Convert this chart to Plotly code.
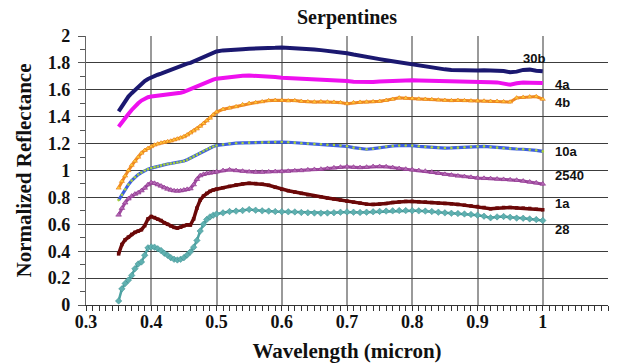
import plotly.graph_objects as go

# Wavelength grid (micron): finer steps across the 0.35-0.50 absorption region
wavelength = [
    0.350, 0.355, 0.360, 0.365, 0.370, 0.375, 0.380, 0.385, 0.390, 0.395,
    0.400, 0.405, 0.410, 0.415, 0.420, 0.425, 0.430, 0.435, 0.440, 0.445,
    0.450, 0.455, 0.460, 0.465, 0.470, 0.475, 0.480, 0.485, 0.490, 0.495,
    0.500, 0.51, 0.52, 0.53, 0.54, 0.55, 0.56, 0.57, 0.58, 0.59,
    0.60, 0.61, 0.62, 0.63, 0.64, 0.65, 0.66, 0.67, 0.68, 0.69,
    0.70, 0.71, 0.72, 0.73, 0.74, 0.75, 0.76, 0.77, 0.78, 0.79,
    0.80, 0.81, 0.82, 0.83, 0.84, 0.85, 0.86, 0.87, 0.88, 0.89,
    0.90, 0.91, 0.92, 0.93, 0.94, 0.95, 0.96, 0.97, 0.98, 0.99, 1.00,
]

s_30b = [
    1.44, 1.48, 1.52, 1.55, 1.575, 1.60, 1.625, 1.645, 1.665, 1.68,
    1.693, 1.70, 1.712, 1.72, 1.73, 1.74, 1.75, 1.76, 1.765, 1.775,
    1.785, 1.795, 1.80, 1.81, 1.825, 1.835, 1.845, 1.855, 1.862, 1.875,
    1.885, 1.893, 1.898, 1.90, 1.902, 1.905, 1.905, 1.908, 1.91, 1.912,
    1.915, 1.913, 1.912, 1.908, 1.905, 1.90, 1.895, 1.89, 1.885, 1.878,
    1.872, 1.862, 1.852, 1.845, 1.835, 1.828, 1.82, 1.812, 1.805, 1.795,
    1.79, 1.78, 1.775, 1.765, 1.758, 1.752, 1.748, 1.745, 1.742, 1.745,
    1.743, 1.745, 1.742, 1.745, 1.74, 1.73, 1.735, 1.748, 1.75, 1.742, 1.738,
]

s_4a = [
    1.325, 1.36, 1.39, 1.42, 1.45, 1.48, 1.50, 1.52, 1.535, 1.545,
    1.55, 1.553, 1.555, 1.557, 1.56, 1.562, 1.565, 1.57, 1.572, 1.578,
    1.585, 1.595, 1.605, 1.62, 1.632, 1.642, 1.65, 1.658, 1.665, 1.675,
    1.683, 1.69, 1.695, 1.70, 1.705, 1.706, 1.705, 1.702, 1.698, 1.695,
    1.69, 1.688, 1.685, 1.685, 1.683, 1.682, 1.68, 1.678, 1.675, 1.67,
    1.665, 1.66, 1.657, 1.655, 1.658, 1.662, 1.665, 1.668, 1.67, 1.671,
    1.671, 1.67, 1.668, 1.667, 1.665, 1.664, 1.663, 1.662, 1.661, 1.66,
    1.659, 1.658, 1.656, 1.655, 1.645, 1.638, 1.648, 1.655, 1.653, 1.652, 1.651,
]

s_4b = [
    0.87, 0.92, 0.96, 1.00, 1.04, 1.07, 1.10, 1.13, 1.15, 1.165,
    1.178, 1.19, 1.198, 1.205, 1.21, 1.215, 1.22, 1.228, 1.235, 1.243,
    1.252, 1.265, 1.28, 1.295, 1.31, 1.33, 1.35, 1.37, 1.39, 1.415,
    1.435, 1.455, 1.465, 1.475, 1.49, 1.50, 1.505, 1.512, 1.52, 1.522,
    1.522, 1.518, 1.52, 1.515, 1.512, 1.51, 1.512, 1.51, 1.508, 1.505,
    1.497, 1.505, 1.508, 1.51, 1.512, 1.515, 1.522, 1.53, 1.54, 1.538,
    1.535, 1.532, 1.53, 1.528, 1.525, 1.522, 1.52, 1.522, 1.52, 1.518,
    1.518, 1.517, 1.515, 1.515, 1.512, 1.51, 1.54, 1.545, 1.548, 1.55, 1.53,
]

s_10a = [
    0.78, 0.82, 0.86, 0.895, 0.925, 0.95, 0.97, 0.985, 1.0, 1.01,
    1.018, 1.025, 1.03, 1.038, 1.045, 1.048, 1.052, 1.056, 1.06, 1.065,
    1.07, 1.08, 1.092, 1.105, 1.118, 1.13, 1.145, 1.158, 1.168, 1.178,
    1.186, 1.193, 1.2, 1.203, 1.205, 1.207, 1.208, 1.209, 1.21, 1.211,
    1.212, 1.21, 1.207, 1.203, 1.2, 1.197, 1.195, 1.192, 1.19, 1.186,
    1.18, 1.17, 1.162, 1.158, 1.162, 1.17, 1.178, 1.182, 1.185, 1.186,
    1.185, 1.18, 1.176, 1.172, 1.17, 1.167, 1.168, 1.17, 1.172, 1.176,
    1.178, 1.179, 1.175, 1.17, 1.165, 1.163, 1.16, 1.158, 1.155, 1.15, 1.142,
]

s_2540 = [
    0.67, 0.72, 0.76, 0.79, 0.81, 0.825, 0.835, 0.85, 0.87, 0.895,
    0.91, 0.905, 0.895, 0.885, 0.872, 0.862, 0.855, 0.85, 0.848, 0.85,
    0.855, 0.86, 0.865, 0.895, 0.935, 0.962, 0.972, 0.978, 0.982, 0.986,
    0.99, 1.0, 1.005, 1.0, 0.995, 0.99, 0.988, 0.988, 0.99, 0.992,
    0.993, 0.995, 0.998, 1.0, 1.005, 1.008, 1.01, 1.015, 1.02, 1.025,
    1.028, 1.025, 1.022, 1.025, 1.03, 1.03, 1.028, 1.022, 1.015, 1.01,
    1.005, 1.0, 0.995, 0.988, 0.98, 0.972, 0.966, 0.96, 0.955, 0.95,
    0.945, 0.942, 0.94, 0.937, 0.934, 0.931, 0.928, 0.922, 0.915, 0.908, 0.9,
]

s_1a = [
    0.38, 0.45, 0.485, 0.505, 0.525, 0.54, 0.55, 0.56, 0.59, 0.64,
    0.658, 0.65, 0.638, 0.628, 0.612, 0.6, 0.588, 0.577, 0.572, 0.578,
    0.59, 0.596, 0.595, 0.64, 0.72, 0.78, 0.81, 0.83, 0.845, 0.855,
    0.862, 0.872, 0.882, 0.893, 0.9, 0.905, 0.903, 0.898, 0.89, 0.875,
    0.86, 0.85, 0.84, 0.83, 0.82, 0.812, 0.805, 0.795, 0.788, 0.78,
    0.772, 0.765, 0.758, 0.75, 0.748, 0.75, 0.755, 0.762, 0.767, 0.77,
    0.77, 0.768, 0.765, 0.762, 0.758, 0.755, 0.752, 0.748, 0.742, 0.737,
    0.732, 0.725, 0.715, 0.72, 0.725, 0.725, 0.722, 0.72, 0.718, 0.712, 0.708,
]

s_28 = [
    0.03, 0.12, 0.16, 0.185, 0.22, 0.27, 0.305, 0.32, 0.37, 0.425,
    0.432, 0.43, 0.418, 0.405, 0.385, 0.37, 0.352, 0.34, 0.335, 0.34,
    0.352, 0.372, 0.395, 0.43, 0.48, 0.55, 0.6, 0.635, 0.655, 0.668,
    0.676, 0.685, 0.695, 0.698, 0.702, 0.71, 0.705, 0.7, 0.698, 0.695,
    0.694, 0.693, 0.692, 0.688, 0.686, 0.684, 0.683, 0.684, 0.686, 0.69,
    0.692, 0.69, 0.688, 0.69, 0.693, 0.696, 0.698, 0.7, 0.702, 0.702,
    0.701, 0.7, 0.698, 0.695, 0.69, 0.685, 0.682, 0.68, 0.677, 0.673,
    0.668, 0.66, 0.648, 0.655, 0.658, 0.652, 0.646, 0.645, 0.64, 0.635, 0.628,
]

series_names = ["28", "1a", "2540", "10a", "4b", "4a", "30b"]
series_values = [s_28, s_1a, s_2540, s_10a, s_4b, s_4a, s_30b]

# Axis tick positions and their printed labels
x_ticks = [0.3, 0.4, 0.5, 0.6, 0.7, 0.8, 0.9, 1.0, 1.1]
x_tick_text = ["0.3", "0.4", "0.5", "0.6", "0.7", "0.8", "0.9", "1", "1.1"]
y_ticks = [0, 0.2, 0.4, 0.6, 0.8, 1.0, 1.2, 1.4, 1.6, 1.8, 2.0]
y_tick_text = ["0", "0.2", "0.4", "0.6", "0.8", "1", "1.2", "1.4", "1.6", "1.8", "2"]

# Label anchor positions (wavelength, reflectance) beside the line ends
label_x = [1.015, 1.015, 1.015, 1.015, 1.015, 1.015, 0.966]
label_y = [0.559, 0.758, 0.961, 1.142, 1.507, 1.639, 1.83]

styles = {
    "28":   dict(line=dict(color="#4ea3a3", width=2.5),
                 marker=dict(symbol="diamond", size=5, color="#5fb0b0",
                             line=dict(color="#3d8f8f", width=0.5))),
    "1a":   dict(line=dict(color="#6b0808", width=3.5),
                 marker=dict(symbol="square", size=3.5, color="#6b0808")),
    "2540": dict(line=dict(color="#a04ca0", width=3),
                 marker=dict(symbol="triangle-up", size=5, color="#b46ab4",
                             line=dict(color="#8b2f8b", width=0.6))),
    "10a":  dict(line=dict(color="#3d5ee0", width=3.2),
                 marker=dict(symbol="circle", size=2.6, color="#a6d03c")),
    "4b":   dict(line=dict(color="#f08a22", width=3),
                 marker=dict(symbol="triangle-up", size=4.5, color="#ffc93a",
                             line=dict(color="#e8781a", width=0.6))),
    "4a":   dict(line=dict(color="#ee10ee", width=4), marker=None),
    "30b":  dict(line=dict(color="#1b1870", width=4), marker=None),
}

fig = go.Figure()
for name, vals in zip(series_names, series_values):
    st = styles[name]
    if st["marker"] is None:
        fig.add_trace(go.Scatter(x=wavelength, y=vals, mode="lines", name=name,
                                 line=st["line"], hoverinfo="skip"))
    else:
        fig.add_trace(go.Scatter(x=wavelength, y=vals, mode="lines+markers",
                                 name=name, line=st["line"], marker=st["marker"],
                                 hoverinfo="skip"))

for name, lx, ly in zip(series_names, label_x, label_y):
    fig.add_annotation(x=lx, y=ly, text="<b>%s</b>" % name, showarrow=False,
                       xanchor="left", yanchor="middle",
                       font=dict(family="Liberation Sans", size=13,
                                 color="#111111"))

serif = "Liberation Serif"

fig.update_layout(
    width=619, height=363,
    margin=dict(l=86, r=11, t=36, b=58, autoexpand=False),
    paper_bgcolor="white", plot_bgcolor="white",
    showlegend=False,
    font=dict(family=serif, color="#111111"),
    title=dict(text="<b>Serpentines</b>", x=0.5, xref="paper", xanchor="center",
               y=0.952, yanchor="middle",
               font=dict(family=serif, size=20, color="#111111")),
)

fig.update_xaxes(
    range=[0.3, 1.1], tickmode="array", tickvals=x_ticks,
    ticktext=["<b>%s</b>" % t for t in x_tick_text],
    automargin=False,
    showgrid=True, gridcolor="#9a9a9a", gridwidth=1.5,
    showline=True, linecolor="#333333", linewidth=1,
    ticks="outside", ticklen=5, tickcolor="#333333",
    ticklabelstandoff=-5,
    minor=dict(dtick=0.01, tick0=0.3, ticks="outside", ticklen=5,
               tickcolor="#333333", tickwidth=1, showgrid=False),
    tickfont=dict(family=serif, size=18, color="#111111"),
    title=dict(text="<b>Wavelength (micron)</b>", standoff=12,
               font=dict(family=serif, size=21, color="#111111")),
    zeroline=False,
)

fig.update_yaxes(
    range=[0, 2], tickmode="array", tickvals=y_ticks,
    ticktext=["<b>%s</b>" % t for t in y_tick_text],
    automargin=False,
    showgrid=True, gridcolor="#3c3c3c", gridwidth=1,
    showline=True, linecolor="#666666", linewidth=1.2,
    ticks="outside", ticklen=7, tickcolor="#555555",
    ticklabelstandoff=4,
    minor=dict(dtick=0.1, tick0=0, ticks="outside", ticklen=5,
               tickcolor="#555555", showgrid=False),
    tickfont=dict(family=serif, size=18, color="#111111"),
    title=dict(text="<b>Normalized Reflectance</b>", standoff=10,
               font=dict(family=serif, size=21, color="#111111")),
    zeroline=False,
)

fig.write_html("out.html")
